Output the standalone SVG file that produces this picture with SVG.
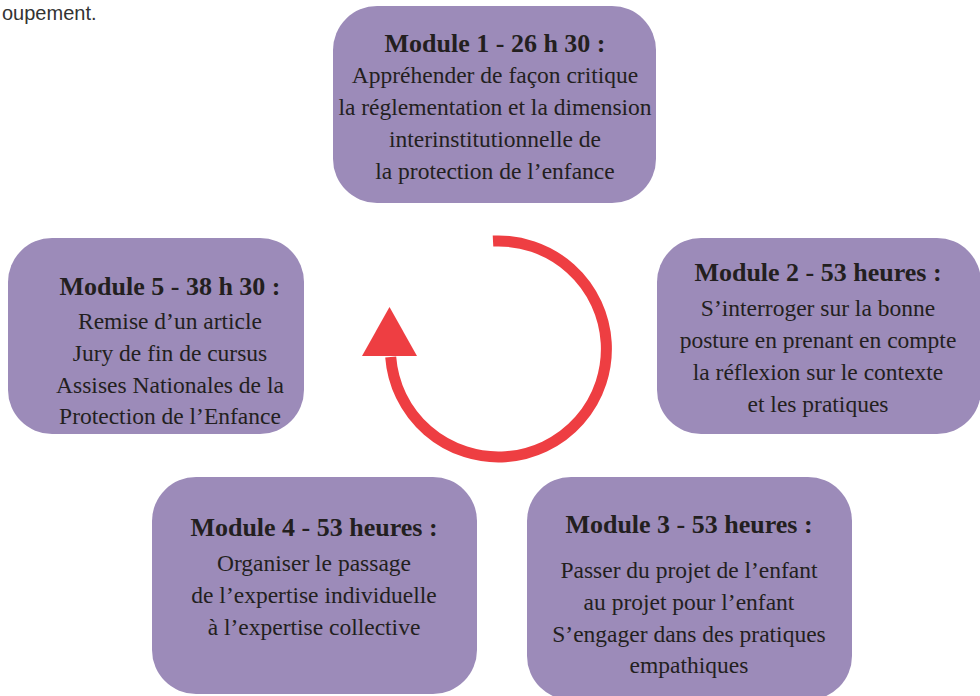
<svg xmlns="http://www.w3.org/2000/svg" width="980" height="696" viewBox="0 0 980 696">
<defs>
<style>
.box{fill:#9c8bb9;}
.t{font-family:"Liberation Serif","DejaVu Serif",serif;font-size:23.5px;fill:#231f20;text-anchor:middle;}
.h{font-weight:bold;font-size:26px;}
.arc{fill:none;stroke:#ee3e42;stroke-width:11;}
</style>
</defs>
<rect width="980" height="696" fill="#ffffff"/>
<text x="2" y="20" style="font-family:'Liberation Sans',sans-serif;font-size:20px;fill:#333333">oupement.</text>
<g id="connectors">
<path class="arc" d="M 493 241.1 A 108 108 0 1 1 390.7 357"/>
<polygon points="362,356 417,356 389.5,307" fill="#ee3e42"/>
</g>
<g id="module1">
<rect class="box" x="333" y="6" width="323" height="197" rx="44"/>
<text class="t h" x="495" y="52">Module 1 - 26 h 30 :</text>
<text class="t" x="495" y="83">Appréhender de façon critique</text>
<text class="t" x="495" y="115">la réglementation et la dimension</text>
<text class="t" x="495" y="147">interinstitutionnelle de</text>
<text class="t" x="495" y="179">la protection de l’enfance</text>
</g>
<g id="module2">
<rect class="box" x="657" y="238" width="324" height="196" rx="44"/>
<text class="t h" x="818" y="281">Module 2 - 53 heures :</text>
<text class="t" x="818" y="316">S’interroger sur la bonne</text>
<text class="t" x="818" y="348">posture en prenant en compte</text>
<text class="t" x="818" y="380">la réflexion sur le contexte</text>
<text class="t" x="818" y="412">et les pratiques</text>
</g>
<g id="module3">
<rect class="box" x="527" y="477" width="325" height="223" rx="44"/>
<text class="t h" x="689" y="533">Module 3 - 53 heures :</text>
<text class="t" x="689" y="578">Passer du projet de l’enfant</text>
<text class="t" x="689" y="610">au projet pour l’enfant</text>
<text class="t" x="689" y="642">S’engager dans des pratiques</text>
<text class="t" x="689" y="673">empathiques</text>
</g>
<g id="module4">
<rect class="box" x="152" y="477" width="325" height="217" rx="44"/>
<text class="t h" x="314" y="536">Module 4 - 53 heures :</text>
<text class="t" x="314" y="571">Organiser le passage</text>
<text class="t" x="314" y="603">de l’expertise individuelle</text>
<text class="t" x="314" y="635">à l’expertise collective</text>
</g>
<g id="module5">
<rect class="box" x="8" y="238" width="296" height="196" rx="44"/>
<text class="t h" x="170" y="295">Module 5 - 38 h 30  :</text>
<text class="t" x="170" y="329">Remise d’un article</text>
<text class="t" x="170" y="361">Jury de fin de cursus</text>
<text class="t" x="170" y="393">Assises Nationales de la</text>
<text class="t" x="170" y="424">Protection de l’Enfance</text>
</g>
</svg>
